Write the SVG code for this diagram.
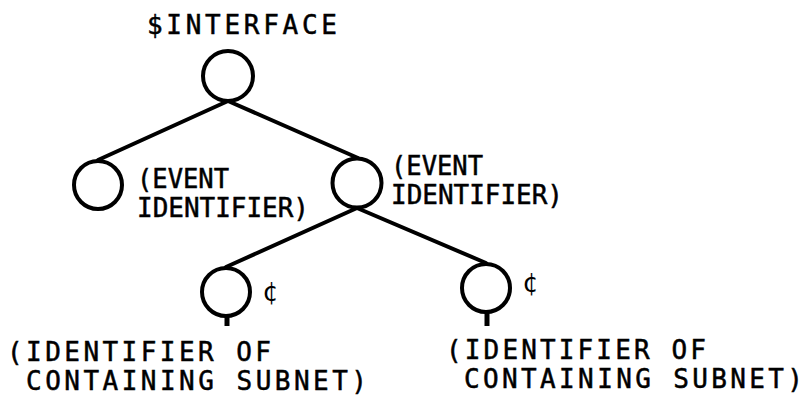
<svg xmlns="http://www.w3.org/2000/svg" width="803" height="398" viewBox="0 0 803 398">
<style>
.n{fill:none;stroke:#000;stroke-width:4}
.c{stroke:#000;stroke-width:4;fill:none;stroke-linecap:round}
.t{font-family:"DejaVu Sans Mono","Liberation Mono",monospace;font-size:26px;fill:#000;stroke:#000;stroke-width:0.5}
.s{font-family:"DejaVu Sans Mono","Liberation Mono",monospace;font-size:26px;fill:#000}
</style>
<rect width="803" height="398" fill="#fff"/>
<g id="connectors">
<line class="c" x1="228" y1="101" x2="98" y2="160"/>
<line class="c" x1="228" y1="101" x2="358" y2="158"/>
<line class="c" x1="357" y1="208" x2="226" y2="267"/>
<line class="c" x1="357" y1="208" x2="486" y2="263"/>
</g>
<g id="root">
<text class="t" x="147" y="34" textLength="190" lengthAdjust="spacing">$INTERFACE</text>
<circle class="n" cx="228" cy="76" r="25"/>
</g>
<g id="event-left">
<circle class="n" cx="98" cy="185" r="24"/>
<text class="t" x="137" y="188" textLength="92" lengthAdjust="spacingAndGlyphs">(EVENT</text>
<text class="t" x="137" y="217" textLength="172" lengthAdjust="spacingAndGlyphs">IDENTIFIER)</text>
</g>
<g id="event-right">
<circle class="n" cx="357" cy="183" r="24.5"/>
<text class="t" x="391" y="175" textLength="92" lengthAdjust="spacingAndGlyphs">(EVENT</text>
<text class="t" x="391" y="204" textLength="172" lengthAdjust="spacingAndGlyphs">IDENTIFIER)</text>
</g>
<g id="subnet-left">
<circle class="n" cx="226" cy="292" r="24"/>
<line x1="227" y1="316" x2="227" y2="326" stroke="#000" stroke-width="5"/>
<text class="s" x="262" y="301">¢</text>
<text class="t" x="7" y="361" textLength="264" lengthAdjust="spacing">(IDENTIFIER OF</text>
<text class="t" x="26" y="390" textLength="341" lengthAdjust="spacing">CONTAINING SUBNET)</text>
</g>
<g id="subnet-right">
<circle class="n" cx="486" cy="288" r="24"/>
<line x1="487" y1="312" x2="487" y2="326" stroke="#000" stroke-width="5"/>
<text class="s" x="522" y="292">¢</text>
<text class="t" x="446" y="359" textLength="260" lengthAdjust="spacing">(IDENTIFIER OF</text>
<text class="t" x="464" y="388" textLength="339" lengthAdjust="spacing">CONTAINING SUBNET)</text>
</g>
</svg>
